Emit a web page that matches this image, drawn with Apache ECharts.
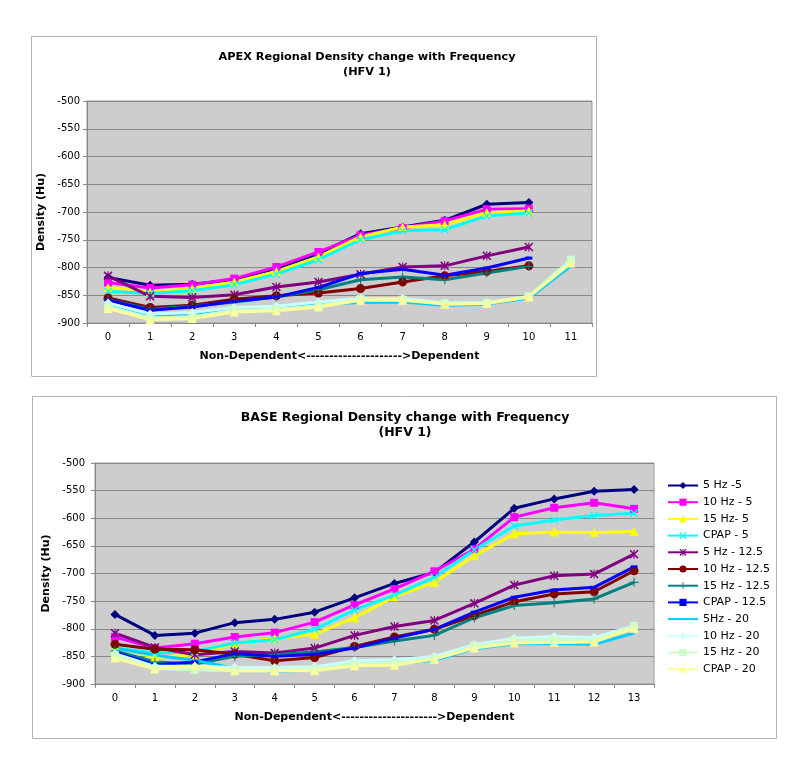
<!DOCTYPE html>
<html>
<head>
<meta charset="utf-8">
<script src="https://cdn.jsdelivr.net/npm/echarts@6/dist/echarts.min.js"></script>
<style>html,body{margin:0;padding:0;background:#fff;}#c{width:800px;height:761px;}</style>
</head>
<body>
<div id="c"></div>
<script>
const categoriesTop = ['0','1','2','3','4','5','6','7','8','9','10','11'];
const categoriesBottom = ['0','1','2','3','4','5','6','7','8','9','10','11','12','13'];
const yTicks = [-900,-850,-800,-750,-700,-650,-600,-550,-500];
const seriesNames = ['5 Hz -5','10 Hz - 5','15 Hz- 5','CPAP - 5','5 Hz - 12.5','10 Hz - 12.5','15 Hz - 12.5','CPAP - 12.5','5Hz - 20','10 Hz - 20','15 Hz - 20','CPAP - 20'];

// APEX (top chart)
const apex5Hz5     = [-818,-832,-830,-822,-802,-775,-739,-727,-715,-686,-683];
const apex10Hz5    = [-827,-837,-831,-820,-799,-772,-742,-729,-716,-695,-694];
const apex15Hz5    = [-836,-844,-838,-826,-807,-781,-745,-727,-723,-701,-698];
const apexCpap5    = [-843,-847,-842,-831,-812,-786,-750,-734,-732,-707,-702];
const apex5Hz125   = [-815,-852,-854,-849,-835,-826,-812,-799,-797,-779,-763];
const apex10Hz125  = [-855,-872,-868,-857,-851,-846,-838,-826,-815,-807,-797];
const apex15Hz125  = [-858,-875,-870,-862,-853,-840,-822,-817,-822,-810,-798];
const apexCpap125  = [-859,-877,-871,-861,-853,-836,-811,-803,-814,-801,-783];
const apex5Hz20    = [-866,-886,-883,-874,-872,-866,-863,-862,-868,-866,-855,-797];
const apex10Hz20   = [-864,-884,-881,-872,-870,-862,-856,-856,-864,-863,-852,-790];
const apex15Hz20   = [-870,-891,-889,-877,-875,-869,-857,-858,-865,-864,-852,-786];
const apexCpap20   = [-874,-894,-892,-880,-878,-871,-859,-859,-866,-865,-853,-792];

// BASE (bottom chart)
const base5Hz5     = [-774,-812,-808,-789,-783,-770,-744,-718,-698,-643,-582,-565,-551,-548];
const base10Hz5    = [-815,-835,-827,-815,-807,-788,-757,-728,-696,-656,-598,-581,-572,-583];
const base15Hz5    = [-832,-852,-847,-827,-817,-810,-780,-742,-716,-668,-628,-625,-626,-624];
const baseCpap5    = [-835,-844,-841,-826,-820,-801,-766,-739,-707,-657,-614,-603,-595,-591];
const base5Hz125   = [-808,-834,-847,-841,-844,-835,-812,-796,-785,-754,-721,-704,-701,-665];
const base10Hz125  = [-828,-837,-838,-846,-858,-852,-832,-815,-801,-776,-751,-737,-733,-695];
const base15Hz125  = [-840,-860,-864,-850,-847,-842,-834,-822,-812,-780,-758,-753,-746,-716];
const baseCpap125  = [-843,-865,-860,-845,-850,-846,-835,-817,-801,-770,-743,-730,-725,-688];
const base5Hz20    = [-835,-848,-857,-872,-877,-875,-866,-864,-857,-836,-827,-827,-828,-808];
const base10Hz20   = [-845,-868,-868,-870,-870,-869,-858,-856,-850,-829,-817,-814,-816,-795];
const base15Hz20   = [-848,-872,-874,-876,-876,-873,-864,-862,-854,-831,-821,-820,-821,-795];
const baseCpap20   = [-853,-873,-867,-876,-876,-876,-867,-866,-855,-835,-826,-825,-824,-799];

const apexData = [apex5Hz5,apex10Hz5,apex15Hz5,apexCpap5,apex5Hz125,apex10Hz125,apex15Hz125,apexCpap125,apex5Hz20,apex10Hz20,apex15Hz20,apexCpap20];
const baseData = [base5Hz5,base10Hz5,base15Hz5,baseCpap5,base5Hz125,base10Hz125,base15Hz125,baseCpap125,base5Hz20,base10Hz20,base15Hz20,baseCpap20];

const X_PATH = 'path://M0,1.2 L1.2,0 L5,3.8 L8.8,0 L10,1.2 L6.2,5 L10,8.8 L8.8,10 L5,6.2 L1.2,10 L0,8.8 L3.8,5 Z';
const PLUS_PATH = 'path://M4.4,0 H5.6 V4.4 H10 V5.6 H5.6 V10 H4.4 V5.6 H0 V4.4 H4.4 Z';
const STAR_PATH = 'path://M0,1.2 L1.2,0 L5,3.8 L8.8,0 L10,1.2 L6.2,5 L10,8.8 L8.8,10 L5,6.2 L1.2,10 L0,8.8 L3.8,5 Z M4.4,0 H5.6 V10 H4.4 Z';

const styles = [
  {color:'#000080', symbol:'diamond', size:9},
  {color:'#FF00FF', symbol:'rect', size:8},
  {color:'#FFFF00', symbol:'triangle', size:9},
  {color:'#00FFFF', symbol:X_PATH, size:8},
  {color:'#800080', symbol:STAR_PATH, size:9},
  {color:'#800000', symbol:'circle', size:9},
  {color:'#008080', symbol:PLUS_PATH, size:9},
  {color:'#0000FF', symbol:'rect', size:[7,3]},
  {color:'#00CCFF', symbol:'none', size:0},
  {color:'#CCFFFF', symbol:'diamond', size:9},
  {color:'#CCFFCC', symbol:'rect', size:8},
  {color:'#FFFF99', symbol:'triangle', size:9}
];

const series = [];
seriesNames.forEach((n,i)=>{
  const st = styles[i];
  const noMark = st.symbol === 'none';
  const common = {
    name:n, type:'line',
    symbol: noMark ? 'circle' : st.symbol,
    symbolSize: noMark ? 1 : st.size,
    showSymbol: !noMark,
    lineStyle:{color:st.color, width:3},
    itemStyle:{color: noMark ? 'rgba(0,0,0,0)' : st.color},
    animation:false,
    emphasis:{disabled:true}
  };
  series.push(Object.assign({}, common, {xAxisIndex:0, yAxisIndex:0, data:apexData[i]}));
  series.push(Object.assign({}, common, {xAxisIndex:1, yAxisIndex:1, data:baseData[i]}));
});

const xTitle = 'Non-Dependent<--------------------->Dependent';
const axisFont = {fontFamily:'DejaVu Sans', fontSize:10, color:'#000'};
const nameFont = {fontFamily:'DejaVu Sans', fontSize:11, fontWeight:'bold', color:'#000'};

function xAx(idx, cats){
  return {type:'category', gridIndex:idx, data:cats, boundaryGap:true,
    name:xTitle, nameLocation:'middle', nameGap:28, nameTextStyle:nameFont,
    axisLine:{lineStyle:{color:'#888', width:1}},
    axisTick:{show:true, length:4, lineStyle:{color:'#888'}},
    axisLabel:Object.assign({margin:9}, axisFont)};
}
function yAx(idx, gap, margin){
  return {type:'value', gridIndex:idx, min:yTicks[0], max:yTicks[yTicks.length-1], interval:50,
    name:'Density (Hu)', nameLocation:'middle', nameGap:gap, nameTextStyle:nameFont,
    axisLine:{show:true, lineStyle:{color:'#888', width:1}},
    axisTick:{show:true, length:4, lineStyle:{color:'#888'}},
    axisLabel:Object.assign({margin:margin}, axisFont),
    splitLine:{show:true, lineStyle:{color:'#888', width:1}}};
}

const chart = echarts.init(document.getElementById('c'), null, {renderer:'canvas'});
chart.setOption({
  backgroundColor:'#fff',
  animation:false,
  graphic:[
    {type:'rect', shape:{x:31.5, y:36.5, width:565, height:340}, style:{fill:'none', stroke:'#b4b4b4', lineWidth:1}, z:-10},
    {type:'rect', shape:{x:32.5, y:396.5, width:744, height:342}, style:{fill:'none', stroke:'#b4b4b4', lineWidth:1}, z:-10}
  ],
  title:[
    {text:'APEX Regional Density change with Frequency\n(HFV 1)', left:362, top:45, textAlign:'center',
     textStyle:{fontFamily:'DejaVu Sans', fontSize:11.3, fontWeight:'bold', color:'#000', lineHeight:15}},
    {text:'BASE Regional Density change with Frequency\n(HFV 1)', left:400, top:405, textAlign:'center',
     textStyle:{fontFamily:'DejaVu Sans', fontSize:12.5, fontWeight:'bold', color:'#000', lineHeight:15}}
  ],
  legend:{
    data:seriesNames, orient:'vertical', left:662, top:475, itemWidth:30, itemHeight:9, itemGap:5.7,
    textStyle:{fontFamily:'DejaVu Sans', fontSize:11, color:'#000'}, selectedMode:false
  },
  grid:[
    {left:87, top:101, width:505, height:222, show:true, backgroundColor:'#cdcdcd', borderColor:'#999', borderWidth:1},
    {left:95, top:463, width:559, height:221, show:true, backgroundColor:'#cdcdcd', borderColor:'#999', borderWidth:1}
  ],
  xAxis:[xAx(0, categoriesTop), xAx(1, categoriesBottom)],
  yAxis:[yAx(0, 31, 7), yAx(1, 35, 10)],
  series:series
});
</script>
</body>
</html>
